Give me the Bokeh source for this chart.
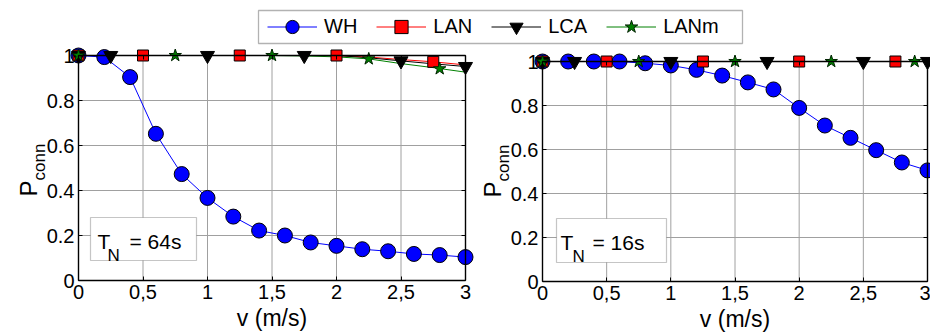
import math
from bokeh.plotting import figure
from bokeh.models import (Range1d, LinearAxis, FixedTicker, CustomJSTickFormatter, Label,
                          BoxAnnotation, Legend, LegendItem)
from bokeh.layouts import column, row
from bokeh.embed import file_html
from bokeh.resources import INLINE

# ---------------- data ----------------
series_names = ["WH", "LAN", "LCA", "LANm"]
x_ticks = [0, 0.5, 1, 1.5, 2, 2.5, 3]
y_ticks = [0, 0.2, 0.4, 0.6, 0.8, 1]

v_wh = [0.0, 0.2, 0.4, 0.6, 0.8, 1.0, 1.2, 1.4, 1.6, 1.8, 2.0, 2.2, 2.4, 2.6, 2.8, 3.0]
wh_64 = [1.0, 0.993, 0.904, 0.652, 0.473, 0.367, 0.284, 0.222, 0.200, 0.169, 0.154, 0.139, 0.130, 0.118, 0.113, 0.104]
wh_16 = [1.0, 1.0, 1.0, 1.0, 0.992, 0.982, 0.962, 0.936, 0.905, 0.873, 0.789, 0.709, 0.653, 0.597, 0.541, 0.505]

v_line = [0.0, 0.25, 0.5, 0.75, 1.0, 1.25, 1.5, 1.75, 2.0, 2.25, 2.5, 2.75, 3.0]
lan_64 = [1.0, 1.0, 1.0, 1.0, 1.0, 1.0, 1.0, 1.0, 1.0, 0.993, 0.982, 0.972, 0.958]
lca_64 = [1.0, 1.0, 1.0, 1.0, 1.0, 1.0, 1.0, 1.0, 1.0, 0.990, 0.976, 0.963, 0.951]
lanm_64 = [1.0, 1.0, 1.0, 1.0, 1.0, 1.0, 1.0, 0.998, 0.994, 0.985, 0.964, 0.946, 0.926]
lan_16 = [1.0, 1.0, 1.0, 1.0, 1.0, 1.0, 1.0, 1.0, 1.0, 1.0, 1.0, 1.0, 1.0]
lca_16 = [1.0, 1.0, 1.0, 1.0, 1.0, 1.0, 1.0, 1.0, 1.0, 1.0, 1.0, 1.0, 1.0]
lanm_16 = [1.0, 1.0, 1.0, 1.0, 1.0, 1.0, 1.0, 1.0, 1.0, 1.0, 1.0, 1.0, 1.0]

lan_mk_v = [0.0, 0.5, 1.25, 2.0, 2.75]
lan_mk_64 = [1.0, 1.0, 1.0, 1.0, 0.972]
lan_mk_16 = [1.0, 1.0, 1.0, 1.0, 1.0]
lca_mk_v = [0.0, 0.25, 1.0, 1.75, 2.5, 3.0]
lca_mk_64 = [1.0, 1.0, 1.0, 1.0, 0.976, 0.951]
lca_mk_16 = [1.0, 1.0, 1.0, 1.0, 1.0, 1.0]
lanm_mk_v_64 = [0.0, 0.75, 1.5, 2.25, 2.8]
lanm_mk_64 = [1.0, 1.0, 1.0, 0.985, 0.941]
lanm_mk_v_16 = [0.0, 0.75, 1.5, 2.25, 2.9]
lanm_mk_16 = [1.0, 1.0, 1.0, 1.0, 1.0]

tn_values = ["= 64s", "= 16s"]
x_label = "v (m/s)"

# ---------------- styles ----------------
FONT = "Liberation Sans"
COLORS = {"WH": "#0000ff", "LAN": "#ff0000", "LCA": "#000000", "LANm": "#008000"}
EDGES = {"WH": "black", "LAN": "black", "LCA": "black", "LANm": "#002200"}
MARKERS = {"WH": ("circle", 15), "LAN": ("square", 11), "LCA": ("inverted_triangle", 14), "LANm": ("star", 13)}
GRID = "#a0a0a0"

xfmt = CustomJSTickFormatter(code="return String(tick).replace('.', ',');")
yfmt = CustomJSTickFormatter(code="return String(Math.round(tick * 10) / 10);")


def style_main_axis(ax, ticks, fmt):
    ax.ticker = FixedTicker(ticks=ticks)
    ax.formatter = fmt
    ax.axis_line_color = "black"
    ax.axis_line_width = 1.4
    ax.major_tick_in = 4
    ax.major_tick_out = 0
    ax.major_tick_line_color = "black"
    ax.minor_tick_line_color = None
    ax.major_label_text_font = FONT
    ax.major_label_text_color = "black"
    ax.major_label_text_font_size = "20px"
    ax.major_label_standoff = 4


def style_box_axis(ax, ticks):
    # box edge with inward tick marks only (no labels)
    ax.ticker = FixedTicker(ticks=[], minor_ticks=ticks)
    ax.axis_line_color = "black"
    ax.axis_line_width = 1.4
    ax.major_tick_line_color = None
    ax.minor_tick_in = 4
    ax.minor_tick_out = 0
    ax.minor_tick_line_color = "black"


def make_panel(width, height, bx0, bx1, by_top, by_bot, wh, lan, lca, lanm,
               lan_mk, lca_mk, lanm_mk_v, lanm_mk, tn_text, tn_geo):
    xmin, xmax = x_ticks[0], x_ticks[-1]
    ymin, ymax = y_ticks[0], y_ticks[-1]
    xpu = (bx1 - bx0) / (xmax - xmin)
    ypu = (by_bot - by_top) / (ymax - ymin)
    x_start = xmin - bx0 / xpu
    x_end = xmax + (width - bx1) / xpu
    y_start = ymin - (height - by_bot) / ypu
    y_end = ymax + by_top / ypu
    p = figure(width=width, height=height, x_range=Range1d(x_start, x_end),
               y_range=Range1d(y_start, y_end), toolbar_location=None, output_backend="svg",
               min_border=0, outline_line_color=None,
               background_fill_color="white", border_fill_color="white")
    p.grid.visible = False

    xa = p.below[0]
    ya = p.left[0]
    style_main_axis(xa, x_ticks, xfmt)
    style_main_axis(ya, y_ticks, yfmt)
    xa.bounds = (xmin, xmax)
    ya.bounds = (ymin, ymax)
    xa.fixed_location = ymin
    ya.fixed_location = xmin
    xa.axis_label = x_label
    xa.axis_label_text_font = FONT
    xa.axis_label_text_font_size = "23px"
    xa.axis_label_text_font_style = "normal"
    xa.axis_label_text_color = "black"
    xa.axis_label_standoff = 3

    top = LinearAxis()
    style_box_axis(top, x_ticks)
    top.bounds = (xmin, xmax)
    top.fixed_location = ymax
    p.add_layout(top, "above")
    right = LinearAxis()
    style_box_axis(right, y_ticks)
    right.bounds = (ymin, ymax)
    right.fixed_location = xmax
    p.add_layout(right, "right")

    # grid lines limited to the axes box
    n = len(x_ticks)
    p.segment(x0=x_ticks, y0=[ymin] * n, x1=x_ticks, y1=[ymax] * n,
              line_color=GRID, line_width=1)
    m = len(y_ticks)
    p.segment(x0=[xmin] * m, y0=y_ticks, x1=[xmax] * m, y1=y_ticks,
              line_color=GRID, line_width=1)

    # lines
    p.line(v_wh, wh, line_color=COLORS["WH"], line_width=1)
    p.line(v_line, lan, line_color=COLORS["LAN"], line_width=1)
    p.line(v_line, lca, line_color=COLORS["LCA"], line_width=1)
    p.line(v_line, lanm, line_color=COLORS["LANm"], line_width=1)
    # markers
    for name, xs, ys in (("WH", v_wh, wh), ("LAN", lan_mk_v, lan_mk),
                         ("LCA", lca_mk_v, lca_mk), ("LANm", lanm_mk_v, lanm_mk)):
        mk, sz = MARKERS[name]
        p.scatter(xs, ys, marker=mk, size=sz, fill_color=COLORS[name],
                  line_color=EDGES[name], line_width=1)

    # y axis label P_conn (P with subscript "conn")
    p.add_layout(Label(x=xmin - 50 / xpu, y=ymin + 84 / ypu, text="P", angle=math.pi / 2,
                       text_align="left", text_baseline="alphabetic",
                       text_font=FONT, text_font_size="24px", text_color="black"))
    p.add_layout(Label(x=xmin - 39 / xpu, y=ymin + 100 / ypu, text="conn", angle=math.pi / 2,
                       text_align="left", text_baseline="alphabetic",
                       text_font=FONT, text_font_size="17px", text_color="black"))

    # T_N text box
    bl, br, bb, bt, tx, nx, ex = tn_geo
    p.add_layout(BoxAnnotation(left=xmin + bl / xpu, right=xmin + br / xpu,
                               bottom=ymin + bb / ypu, top=ymin + bt / ypu,
                               fill_color="white", fill_alpha=1.0, line_color="#404040",
                               line_width=1.2))
    p.add_layout(Label(x=xmin + tx / xpu, y=ymin + 39 / ypu, text="T", text_align="left",
                       text_baseline="alphabetic", text_font=FONT, text_font_size="21px",
                       text_color="black"))
    p.add_layout(Label(x=xmin + nx / xpu, y=ymin + 25 / ypu, text="N", text_align="left",
                       text_baseline="alphabetic", text_font=FONT, text_font_size="17px",
                       text_color="black"))
    p.add_layout(Label(x=xmin + ex / xpu, y=ymin + 39 / ypu, text=tn_text, text_align="left",
                       text_baseline="alphabetic", text_font=FONT, text_font_size="21px",
                       text_color="black"))
    return p


left = make_panel(474, 287, 78, 465, 9, 234, wh_64, lan_64, lca_64, lanm_64,
                  lan_mk_64, lca_mk_64, lanm_mk_v_64, lanm_mk_64, tn_values[0],
                  (12, 118, 20, 63, 19, 29, 51))
rightp = make_panel(456, 287, 68, 453, 15, 235, wh_16, lan_16, lca_16, lanm_16,
                    lan_mk_16, lca_mk_16, lanm_mk_v_16, lanm_mk_16, tn_values[1],
                    (14, 124, 19, 63, 18, 30, 50))

# ---------------- legend strip ----------------
leg = figure(width=930, height=46, x_range=Range1d(0, 930), y_range=Range1d(0, 46),
             x_axis_location=None, y_axis_location=None, min_border=0,
             toolbar_location=None, output_backend="svg", outline_line_color=None)
leg.grid.visible = False
leg.add_layout(BoxAnnotation(left=258, right=742, bottom=3, top=36, fill_color="white",
                             fill_alpha=1.0, line_color="black", line_width=1.3))
items = []
nan = float("nan")
for name in series_names:
    lr = leg.line(x=[nan], y=[nan], line_color=COLORS[name], line_width=1)
    mk, sz = MARKERS[name]
    sr = leg.scatter(x=[nan], y=[nan], marker=mk, size=sz, fill_color=COLORS[name],
                     line_color=EDGES[name], line_width=1)
    items.append(LegendItem(label=name, renderers=[lr, sr]))
legend = Legend(items=items, orientation="horizontal", location=(267, 3),
                glyph_width=50, glyph_height=33, label_standoff=7, spacing=19,
                padding=0, margin=0, border_line_color=None, background_fill_alpha=0,
                label_text_font=FONT, label_text_font_size="20px", label_text_color="black")
leg.add_layout(legend)

layout = column(leg, row(left, rightp, spacing=0), spacing=0)
open("out.html", "w").write(file_html(layout, INLINE))
